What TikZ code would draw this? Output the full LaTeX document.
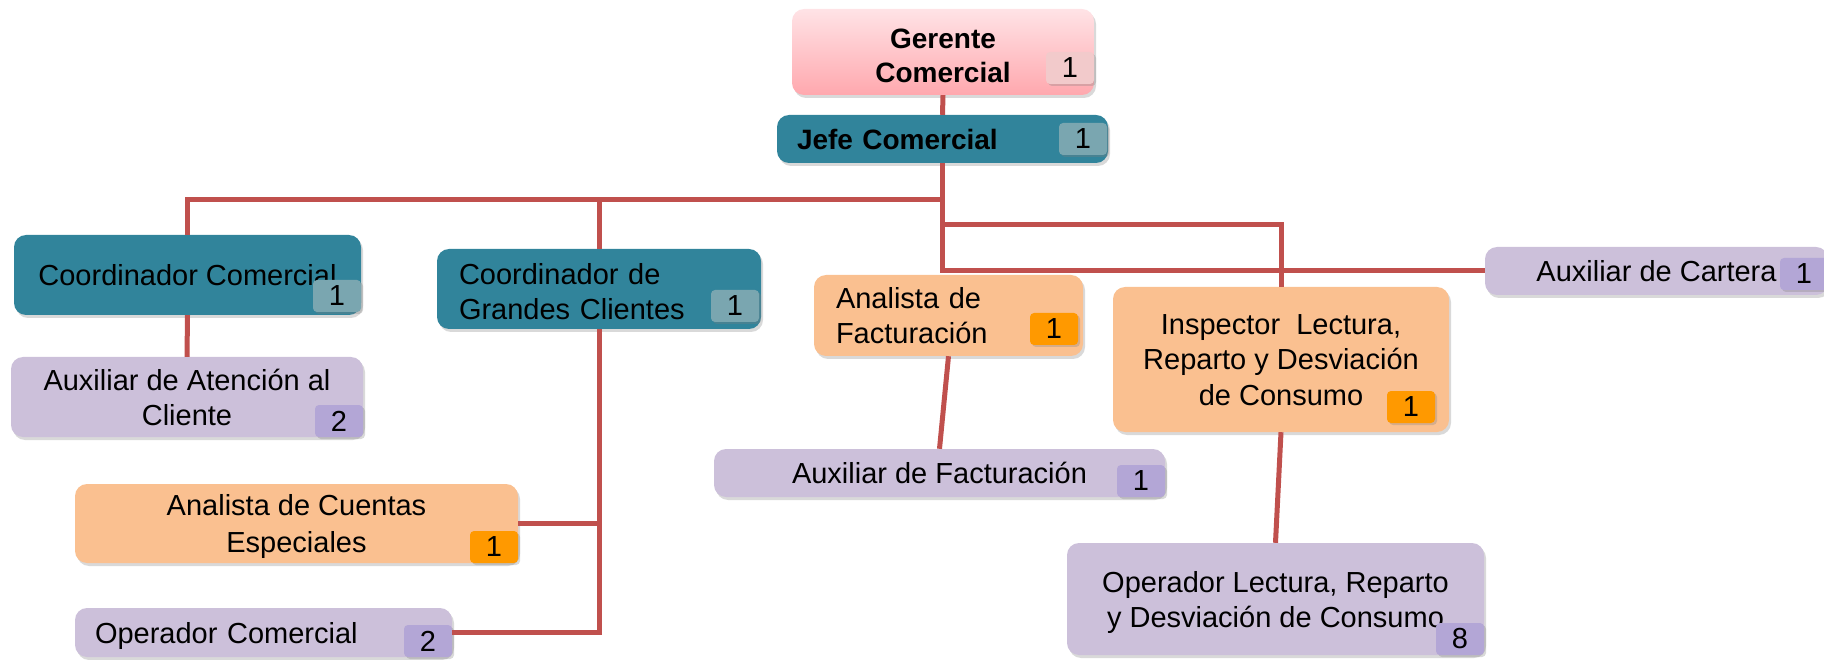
\documentclass[tikz,border=0pt]{standalone}
\usepackage{fontspec}
\setmainfont{Liberation Sans}
\usetikzlibrary{shadows}

\definecolor{linkred}{HTML}{C0504D}
\definecolor{gertop}{HTML}{FFE3E6}
\definecolor{gerbot}{HTML}{FFA8AE}
\definecolor{gerbadge}{HTML}{F2CACB}
\definecolor{tealbox}{HTML}{31849B}
\definecolor{tealbadge}{HTML}{7AA6B0}
\definecolor{orangebox}{HTML}{FAC090}
\definecolor{orangebadge}{HTML}{FF9900}
\definecolor{purplebox}{HTML}{CCC0DA}
\definecolor{purplebadge}{HTML}{B3A6D6}

\tikzset{
    lift/.style={execute at begin node={\rule[-8pt]{0pt}{\dimexpr #1+8pt\relax}}},
    unit/.style={rounded corners=12pt, inner sep=0pt, align=center,
                 font=\fontsize{29}{35}\selectfont, lift=29pt,
                 execute at end node={\rule[-8pt]{0pt}{8pt}},
                 drop shadow={shadow xshift=2pt,shadow yshift=-3pt,opacity=.3}},
    headunit/.style={unit, font=\fontsize{28}{34}\selectfont\bfseries},
    count/.style={rounded corners=4pt, inner sep=0pt, anchor=south east,
                  minimum width=48pt, minimum height=32pt,
                  font=\fontsize{29}{35}\selectfont,
                  drop shadow={shadow xshift=2pt,shadow yshift=-2pt,opacity=.3}},
    link/.style={draw=linkred, line width=5pt}
}

\begin{document}
\begin{tikzpicture}[x=1pt,y=-1pt]
            \useasboundingbox (0,0) rectangle (1824,660);

            % X % 14   75   437  714  792  814  1067  1113  1485
            % Y % 9    115  235  249  275  287  357   449   484   543   608

            \node [headunit, top color=gertop, bottom color=gerbot, minimum width=302pt, minimum height=86pt, lift=70pt] (ger) at (943,52) {Gerente\\Comercial};
            \node [headunit, fill=tealbox, minimum width=331pt, minimum height=48pt, text width=291pt, align=left] (jefe) at (942.5,139) {Jefe Comercial};

            \node [unit, fill=tealbox, minimum width=347pt, minimum height=80pt] (coc) at (187.5,275) {Coordinador Comercial};
            \node [unit, fill=purplebox, minimum width=352pt, minimum height=80pt, lift=64pt] (aac) at (187,397) {Auxiliar de Atención al\\Cliente};

            \node [unit, fill=tealbox, minimum width=324pt, minimum height=80pt, text width=280pt, align=left, lift=35pt] (cgc) at (599,289) {Coordinador de\\Grandes Clientes};
            \node [unit, fill=orangebox, minimum width=443pt, minimum height=79pt, font=\fontsize{29}{37}\selectfont, lift=66pt] (ace) at (296.5,523.5) {Analista de Cuentas\\Especiales};
            \node [unit, fill=purplebox, minimum width=377pt, minimum height=49pt, text width=337pt, align=left] (opc) at (263.5,632.5) {Operador Comercial};

            \node [unit, fill=orangebox, minimum width=269pt, minimum height=81pt, text width=225pt, align=left] (afa) at (948.5,315.5) {Analista de\\Facturación};
            \node [unit, fill=purplebox, minimum width=451pt, minimum height=48pt] (auf) at (939.5,473) {Auxiliar de Facturación};

            \node [unit, fill=orangebox, minimum width=336pt, minimum height=145pt, font=\fontsize{29}{36}\selectfont, lift=101pt] (ins) at (1281,359.5) {Inspector\ \ Lectura,\\Reparto y Desviación\\de Consumo};
            \node [unit, fill=purplebox, minimum width=417pt, minimum height=112pt, lift=64pt] (olr) at (1275.5,599) {Operador Lectura, Reparto\\y Desviación de Consumo};

            \node [unit, fill=purplebox, minimum width=343pt, minimum height=48pt] (car) at (1656.5,271) {Auxiliar de Cartera};

            \foreach \b/\n/\c/\dx/\dy in {ger/1/gerbadge/0/11, jefe/1/tealbadge/-1/8,
                                          coc/1/tealbadge/0/3, aac/2/purplebadge/0/0,
                                          cgc/1/tealbadge/-2/7, ace/1/orangebadge/0/0,
                                          opc/2/purplebadge/0/0, afa/1/orangebadge/-5/11,
                                          auf/1/purplebadge/0/0, ins/1/orangebadge/-14/9,
                                          car/1/purplebadge/0/5, olr/8/purplebadge/0/0}
                {\node [count, fill=\c] (\b-n) at ([xshift=\dx pt,yshift=\dy pt]\b.south east) {\n};}

            \coordinate (hubL) at (942,200);
            \coordinate (hubR) at (942,225);

            \draw [link] (ger.south) -- (jefe.north);
            \draw [link] (jefe.south) |- (car.west);
            \draw [link] (coc.north) |- (hubL);
            \draw [link] (cgc.north) -- (cgc.north |- hubL);
            \draw [link] (hubR) -| (ins.north);

            \draw [link] (coc.south) -- (aac.north);
            \draw [link] (cgc.south) |- (opc.east);
            \draw [link] (ace.east) -- (ace.east -| cgc.south);
            \draw [link] (afa.south) -- (auf.north);
            \draw [link] (ins.south) -- (olr.north);
\end{tikzpicture}
\end{document}
